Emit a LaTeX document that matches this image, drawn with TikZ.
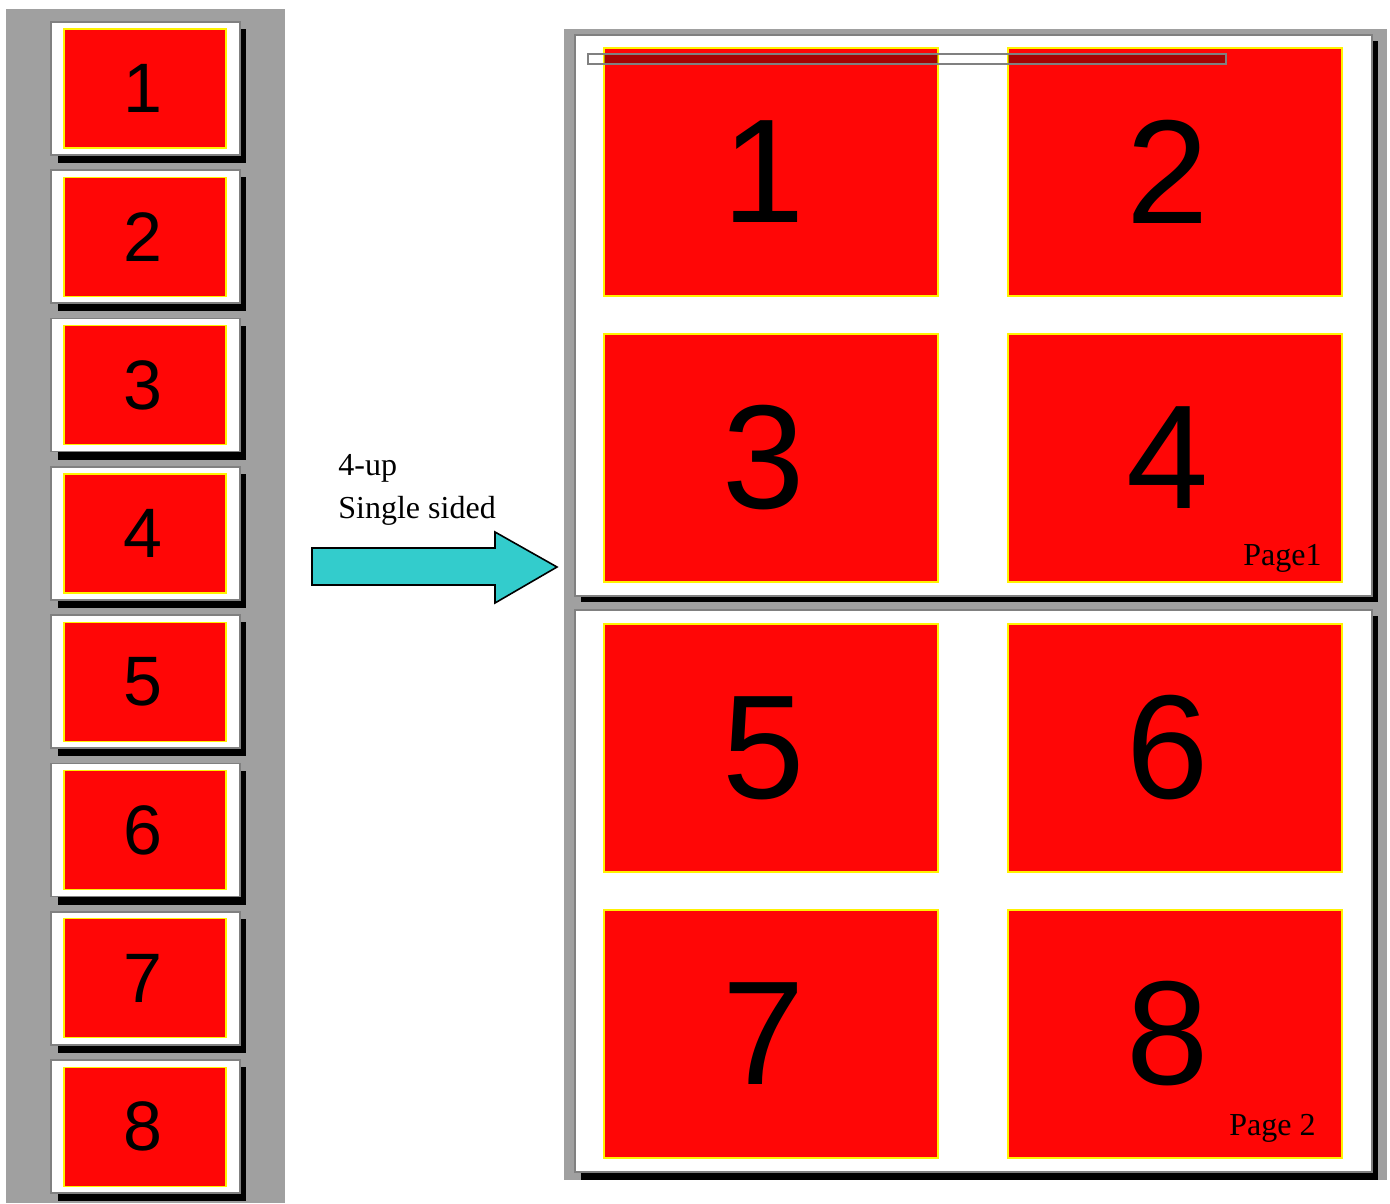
\documentclass[tikz,border=0pt]{standalone}
\usepackage{fontspec}
\setmainfont{Liberation Serif}
\newfontfamily\numfont{Liberation Sans}
\usepackage{tikz}
\definecolor{slidered}{HTML}{FF0606}
\definecolor{panelgray}{HTML}{A0A0A0}
\definecolor{arrowcyan}{HTML}{33CCCC}
\tikzset{
  slide/.style={draw=yellow, fill=slidered, line width=0.6pt},
  sheet/.style={draw=gray, fill=white, line width=0.8pt},
  bignum/.style={font=\numfont\fontsize{74}{74}\selectfont, xshift=-3.5pt},
  label/.style={anchor=base west, inner sep=0pt, font=\fontsize{16}{19}\selectfont},
}

\begin{document}
\begin{tikzpicture}[x=0.5pt, y=-0.5pt]
                \useasboundingbox (0,0) rectangle (1390,1203);

                % slide sorter on the left
                \fill[panelgray] (6,9) rectangle (285,1203);
                \foreach \i in {1,...,8} {
                    \pgfmathsetmacro{\top}{22+148.3*(\i-1)}
                    \fill[black] (58,\top+7) rectangle (246,\top+141);
                    \draw[sheet] (51,\top) rectangle (240,\top+133);
                    \draw[slide] (64,\top+7) rectangle (226,\top+126)
                        node[midway, xshift=-1pt, font=\numfont\fontsize{35}{35}\selectfont] (s\i) {\i};
                }

                % arrow and label
                \fill[draw=black, fill=arrowcyan, line width=0.8pt]
                    (312,548) -- (495,548) -- (495,532) -- (557,567)
                    -- (495,603) -- (495,585) -- (312,585) -- cycle;
                \node[label] (up) at (338,475) {4-up};
                \node[label] (sided) at (338,518) {Single sided};

                % printed pages
                \fill[panelgray] (564,29) rectangle (1387,1180);
                \fill[black] (581,41) rectangle (1378,602);
                \draw[sheet] (575,35) rectangle (1372,596);
                \fill[black] (581,616) rectangle (1378,1180);
                \draw[sheet] (575,610) rectangle (1372,1172);

                % slides on page 1
                \draw[slide] (604,48) rectangle (938,296) node[midway, bignum] (p1) {1};
                \draw[slide] (1008,48) rectangle (1342,296) node[midway, bignum] (p2) {2};
                \draw[slide] (604,334) rectangle (938,582) node[midway, bignum] (p3) {3};
                \draw[slide] (1008,334) rectangle (1342,582) node[midway, bignum] (p4) {4};

                % slides on page 2
                \draw[slide] (604,624) rectangle (938,872) node[midway, bignum] (p5) {5};
                \draw[slide] (1008,624) rectangle (1342,872) node[midway, bignum] (p6) {6};
                \draw[slide] (604,910) rectangle (938,1158) node[midway, bignum] (p7) {7};
                \draw[slide] (1008,910) rectangle (1342,1158) node[midway, bignum] (p8) {8};

                % header bar
                \fill[black, opacity=0.35] (604,54) rectangle (938,64);
                \fill[black, opacity=0.35] (1008,54) rectangle (1226,64);
                \draw[gray, line width=0.8pt] (588,54) rectangle (1226,64);

                % page labels
                \node[label] (pg1) at (1243,565) {Page1};
                \node[label] (pg2) at (1229,1135) {Page 2};
            \end{tikzpicture}
\end{document}
